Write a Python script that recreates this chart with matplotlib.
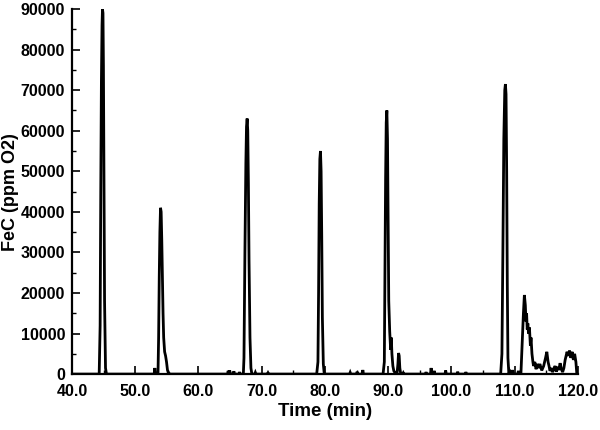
import matplotlib
matplotlib.use("Agg")
import matplotlib.pyplot as plt
from matplotlib.ticker import MultipleLocator, FormatStrFormatter

# FeC trace (time in min, ppm O2)
time = [40.0, 44.3, 44.45, 44.55, 44.65, 44.75, 44.82, 44.9, 44.97, 45.05, 45.15, 45.3, 45.45,
        53.0, 53.1, 53.2, 53.6, 53.7, 53.8, 53.9, 54.0, 54.1, 54.2, 54.3, 54.4,
        54.5, 54.65, 54.8, 54.95, 55.1, 55.3, 55.5,
        64.6, 64.7, 64.8, 64.9, 65.0, 65.1, 65.5, 65.6, 65.7, 66.4, 66.5, 66.6,
        67.1, 67.2, 67.35, 67.5, 67.6, 67.7, 67.8, 67.9, 68.0, 68.15, 68.3, 68.45,
        68.9, 69.0, 69.1, 70.9, 71.0, 71.1,
        78.7, 78.9, 79.0, 79.1, 79.2, 79.3, 79.4, 79.5, 79.6, 79.75, 79.9,
        83.9, 84.0, 84.1, 85.0, 85.1, 85.2, 85.9, 86.0, 86.1,
        89.2, 89.4, 89.5, 89.6, 89.7, 89.8, 89.9, 90.0, 90.1, 90.25, 90.4, 90.5, 90.6,
        90.75, 90.9, 91.1, 91.4, 91.55, 91.65, 91.75, 91.85, 92.0, 92.3, 92.4, 92.5,
        95.9, 96.0, 96.1, 96.7, 96.8, 96.9, 97.2, 97.3, 97.4, 99.0, 99.1, 99.2,
        100.9, 101.0, 101.1, 102.2, 102.3, 102.4, 107.8,
        108.0, 108.15, 108.3, 108.45, 108.55, 108.65, 108.75, 108.85, 108.95, 109.1, 109.25,
        109.6, 109.7, 109.8, 110.5, 110.6, 110.7, 111.0, 111.2, 111.4, 111.55, 111.7, 111.8,
        111.9, 112.0, 112.1, 112.2, 112.35, 112.5, 112.6, 112.75, 112.9, 113.0, 113.2, 113.4,
        113.6, 113.8, 114.0, 114.3, 114.6, 114.9, 115.1, 115.3, 115.45, 115.6, 115.8, 116.0,
        116.2, 116.4, 116.6, 116.8, 117.0, 117.2, 117.4, 117.6, 117.8, 118.0, 118.3, 118.5,
        118.7, 118.9, 119.1, 119.3, 119.5, 119.7, 119.85, 120.0]
ppm = [0, 0, 12000, 45000, 72000, 86000, 90000, 89000, 76000, 52000, 18000, 1500, 0,
       0, 1500, 0, 0, 9000, 24000, 35000, 41000, 40000, 33000, 24000, 15000,
       9000, 5500, 4500, 3000, 1000, 300, 0,
       0, 800, 300, 900, 400, 0, 0, 700, 0, 0, 500, 0,
       0, 4000, 30000, 52000, 61000, 63000, 60000, 47000, 28000, 9000, 1500, 0,
       0, 400, 0, 0, 300, 0,
       0, 3000, 20000, 42000, 53000, 55000, 50000, 34000, 14000, 2500, 0,
       0, 400, 0, 0, 600, 0, 0, 1000, 0,
       0, 3000, 25000, 48000, 62000, 65000, 58000, 38000, 18000, 10500, 6000, 9000, 5000,
       2000, 800, 300, 0, 2500, 5200, 4500, 1500, 0, 0, 300, 0,
       0, 500, 0, 0, 1500, 0, 0, 800, 0, 0, 900, 0,
       0, 600, 0, 0, 500, 0, 0,
       5000, 30000, 58000, 70000, 71500, 69000, 50000, 22000, 4000, 0, 800,
       0, 1000, 0, 0, 800, 0, 0, 7500, 15000, 19500, 17000, 13000,
       15000, 11000, 12500, 10000, 11500, 7000, 9000, 5000, 3000, 2000, 3000, 1200,
       2500, 1500, 2500, 900, 2000, 4000, 5500, 3000, 2000, 800, 1500, 500,
       1200, 2000, 600, 1800, 1000, 2700, 1200, 500, 1500, 3500, 5500, 4500,
       5800, 4000, 5500, 3500, 5000, 3000, 0, 0]

xticks = [40, 50, 60, 70, 80, 90, 100, 110, 120]

fig = plt.figure(figsize=(6.0, 4.3), dpi=100)
ax = fig.add_axes([0.12, 0.13, 0.843, 0.849])

ax.plot(time, ppm, color="black", lw=2.0, solid_joinstyle="miter")

ax.set_xlim(40, 120)
ax.set_ylim(0, 90000)
ax.set_xticks(xticks)
ax.xaxis.set_major_formatter(FormatStrFormatter("%.1f"))
ax.xaxis.set_minor_locator(MultipleLocator(5))
ax.yaxis.set_major_locator(MultipleLocator(10000))
ax.yaxis.set_minor_locator(MultipleLocator(5000))

ax.spines["top"].set_visible(False)
ax.spines["right"].set_visible(False)
ax.spines["left"].set_linewidth(1.6)
ax.spines["bottom"].set_linewidth(1.6)
ax.tick_params(which="major", direction="in", length=6, width=1.2)
ax.tick_params(axis="x", which="major", pad=7)
ax.tick_params(axis="y", which="major", pad=5)
ax.tick_params(which="minor", direction="in", length=3, width=1.0)

for lab in ax.get_xticklabels() + ax.get_yticklabels():
    lab.set_fontfamily("Liberation Sans")
    lab.set_fontweight("bold")
    lab.set_fontsize(11.5)

ax.set_xlabel("Time (min)", fontfamily="Liberation Sans", fontweight="bold", fontsize=13.5, labelpad=3)
ax.set_ylabel("FeC (ppm O2)", fontfamily="Liberation Sans", fontweight="bold", fontsize=13)
ax.yaxis.set_label_coords(-0.104, 0.5)

fig.savefig("out.png", dpi=100)
